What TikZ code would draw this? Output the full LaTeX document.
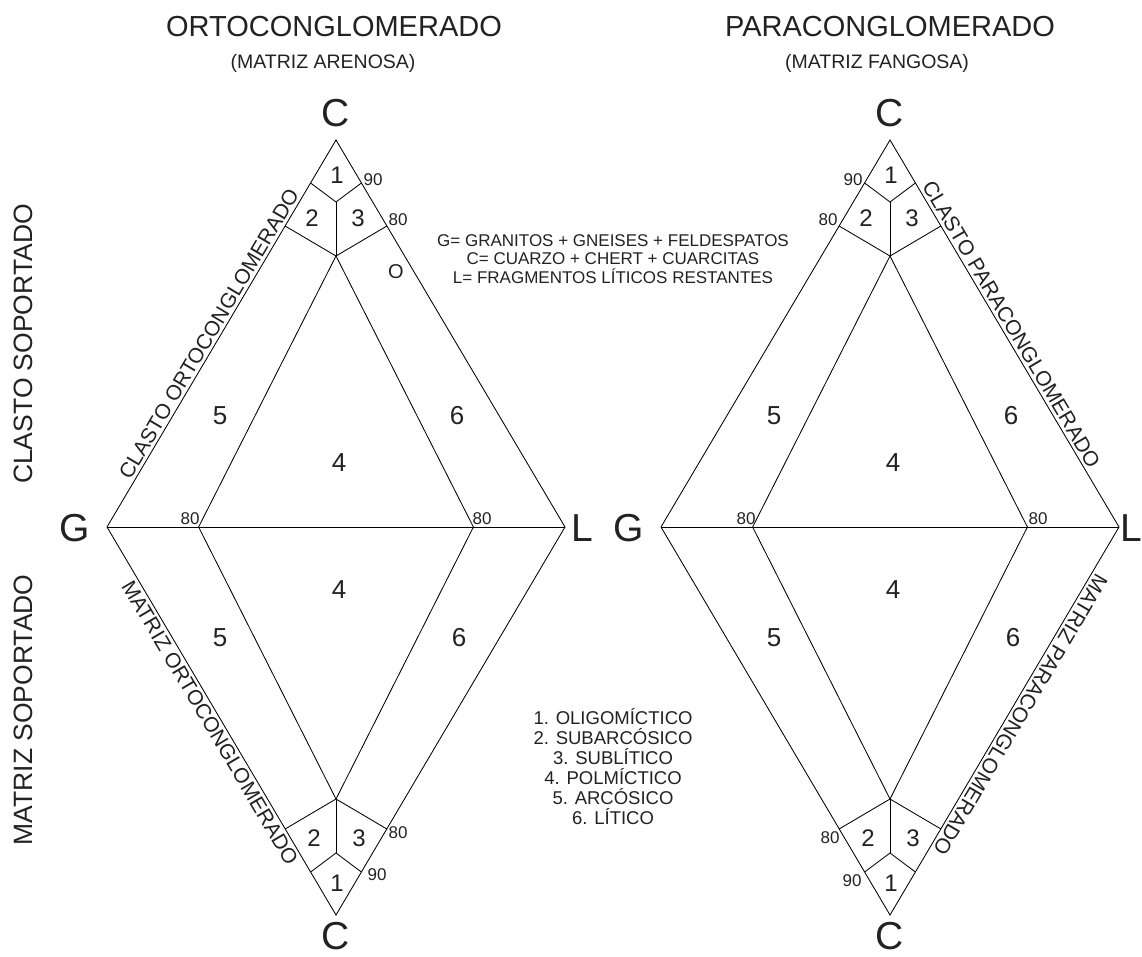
\documentclass[tikz,border=0pt]{standalone}
\usepackage{fontspec}
\setmainfont{Liberation Sans}
\definecolor{txt}{HTML}{222222}
\newcommand\myfs[1]{\fontsize{#1}{#1}\selectfont}
\begin{document}
\begin{tikzpicture}[x=1pt,y=-1pt,
  ln/.style={line width=0.85pt, black},
  lbl/.style={inner sep=0pt, text=txt},
  big/.style={lbl, font=\myfs{39}, anchor=base},
  reg/.style={lbl, font=\myfs{24}},
  regb/.style={lbl, font=\myfs{26}},
  pct/.style={lbl, font=\myfs{17}},
  side/.style={inner sep=3pt, text=txt, font=\myfs{21}},
  vert/.style={lbl, font=\myfs{26.5}, rotate=90},
  title/.style={lbl, font=\myfs{29}, anchor=base},
  subt/.style={lbl, font=\myfs{19.5}, anchor=base},
  leg/.style={lbl, font=\myfs{17}, align=center, anchor=base},
  lst/.style={lbl, font=\myfs{18.5}, anchor=base}]
\useasboundingbox (0,0) rectangle (1142,956);

\foreach \p/\cx in {a/336, b/890} {
  \coordinate (\p Ct) at (\cx,140);
  \coordinate (\p Cb) at (\cx,915);
  \coordinate (\p G) at (\cx-229,527);
  \coordinate (\p L) at (\cx+229,527);
  \coordinate (\p iG) at (\cx-137.4,527);
  \coordinate (\p iL) at (\cx+137.4,527);
  \coordinate (\p tNl) at (\cx-25.4,183);
  \coordinate (\p tNr) at (\cx+25.4,183);
  \coordinate (\p tNm) at (\cx,202);
  \coordinate (\p tEl) at (\cx-50.9,226);
  \coordinate (\p tEr) at (\cx+50.9,226);
  \coordinate (\p tEm) at (\cx,256);
  \coordinate (\p bNl) at (\cx-25.4,872);
  \coordinate (\p bNr) at (\cx+25.4,872);
  \coordinate (\p bNm) at (\cx,853);
  \coordinate (\p bEl) at (\cx-50.9,829);
  \coordinate (\p bEr) at (\cx+50.9,829);
  \coordinate (\p bEm) at (\cx,799);
  \draw[ln] (\p G) -- (\p Ct) -- (\p L) -- (\p Cb) -- cycle;
  \draw[ln] (\p G) -- (\p L);
  \draw[ln] (\p iG) -- (\p tEm) -- (\p iL);
  \draw[ln] (\p iG) -- (\p bEm) -- (\p iL);
  \draw[ln] (\p tNl) -- (\p tNm) -- (\p tNr);
  \draw[ln] (\p tEl) -- (\p tEm) -- (\p tEr);
  \draw[ln] (\p tNm) -- (\p tEm);
  \draw[ln] (\p bNl) -- (\p bNm) -- (\p bNr);
  \draw[ln] (\p bEl) -- (\p bEm) -- (\p bEr);
  \draw[ln] (\p bNm) -- (\p bEm);
  % region numbers
  \node[reg] (\p r1t) at (\cx+1,175) {1};
  \node[reg] (\p r2t) at (\cx-24,218) {2};
  \node[reg] (\p r3t) at (\cx+22,218) {3};
  \node[reg] (\p r2b) at (\cx-22,838) {2};
  \node[reg] (\p r3b) at (\cx+23,838) {3};
  \node[reg] (\p r1b) at (\cx+1,883) {1};
  \node[regb] (\p r5t) at (\cx-116,416) {5};
  \node[regb] (\p r6t) at (\cx+121,416) {6};
  \node[regb] (\p r4t) at (\cx+3,463) {4};
  \node[regb] (\p r4b) at (\cx+3,590) {4};
  \node[regb] (\p r5b) at (\cx-116,638) {5};
  \node[regb] (\p r6b) at (\cx+123,638) {6};
  % vertex letters
  \node[big] (\p Ctl) at (\cx,126) {C};
  \node[big] (\p Cbl) at (\cx,949) {C};
}

% G and L letters
\node[big] (aGl) at (75,541) {G};
\node[big] (aLl) at (582,541) {L};
\node[big] (bGl) at (629,541) {G};
\node[big] (bLl) at (1131,541) {L};

% percentage labels
\node[pct] (p1) at (373,180) {90};
\node[pct] (p2) at (398,220) {80};
\node[pct] (p3) at (398,833) {80};
\node[pct] (p4) at (377,875) {90};
\node[pct] (p5) at (853,180) {90};
\node[pct] (p6) at (828,220) {80};
\node[pct] (p7) at (830,838) {80};
\node[pct] (p8) at (852,881) {90};
\node[pct] (p9) at (190,519) {80};
\node[pct] (p10) at (482,519) {80};
\node[pct] (p11) at (746,519) {80};
\node[pct] (p12) at (1038,519) {80};
\node[lbl, font=\myfs{20}] (oo) at (396,272) {O};

% side labels
\path (aG) -- (aCt) node[side, pos=0.485, rotate=59.4, anchor=south] (s1) {CLASTO ORTOCONGLOMERADO};
\path (aG) -- (aCb) node[side, pos=0.49, rotate=-59.4, anchor=north] (s2) {MATRIZ ORTOCONGLOMERADO};
\path (bCt) -- (bL) node[side, pos=0.49, rotate=-59.4, anchor=south] (s3) {CLASTO PARACONGLOMERADO};
\path (bL) -- (bCb) node[side, pos=0.47, rotate=239.4, anchor=south] (s4) {MATRIZ PARACONGLOMERADO};

% vertical labels
\node[vert] (v1) at (23,344) {CLASTO SOPORTADO};
\node[vert] (v2) at (23,710) {MATRIZ SOPORTADO};

% titles
\node[title] (t1) at (334,36) {ORTOCONGLOMERADO};
\node[subt] (t2) at (323,68) {(MATRIZ ARENOSA)};
\node[title] (t3) at (890,36) {PARACONGLOMERADO};
\node[subt] (t4) at (877,68) {(MATRIZ FANGOSA)};

% legend
\node[leg] (g1) at (613,246) {G= GRANITOS + GNEISES + FELDESPATOS};
\node[leg] (g2) at (613,264.5) {C= CUARZO + CHERT + CUARCITAS};
\node[leg] (g3) at (613,283) {L= FRAGMENTOS LÍTICOS RESTANTES};

\node[lst] (l1) at (613,724.5) {1. OLIGOMÍCTICO};
\node[lst] (l2) at (613,744.5) {2. SUBARCÓSICO};
\node[lst] (l3) at (613,764.5) {3. SUBLÍTICO};
\node[lst] (l4) at (613,784.5) {4. POLMÍCTICO};
\node[lst] (l5) at (613,804.5) {5. ARCÓSICO};
\node[lst] (l6) at (613,824.5) {6. LÍTICO};
\end{tikzpicture}
\end{document}
